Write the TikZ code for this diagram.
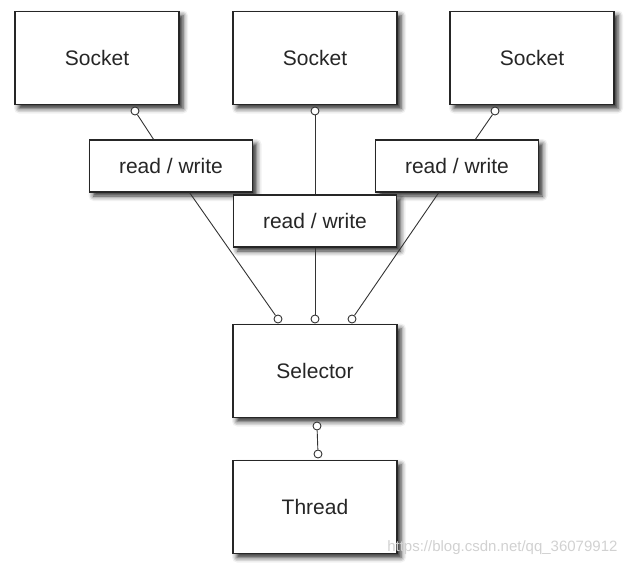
\documentclass[tikz,border=0pt]{standalone}
\usepackage{fontspec}
\setmainfont{Liberation Sans}
\usetikzlibrary{shadows.blur}
\begin{document}
\begin{tikzpicture}[x=1pt,y=-1pt,box_node/.style={rectangle,draw=black!85,line width=1.3pt,fill=white,text=black!85,minimum width=164pt,minimum height=93pt,font=\fontsize{21}{25}\selectfont,blur shadow={shadow xshift=4pt,shadow yshift=-4pt,shadow blur radius=5pt,shadow opacity=85}},rw_node/.style={box_node,minimum width=163pt,minimum height=52pt},port_node/.style={circle,draw=black!80,fill=white,line width=0.9pt,minimum size=8pt,inner sep=0pt},link/.style={draw=black!80,line width=0.9pt}]
		
		\useasboundingbox (0,0) rectangle (631,570);
		
		\node[box_node] (s1) at (97,58) {Socket};
		\node[box_node] (s2) at (315,58) {Socket};
		\node[box_node] (s3) at (532,58) {Socket};
		\node[rw_node] (rw1) at (171,166) {read / write};
		\node[rw_node] (rw3) at (457,166) {read / write};
		\node[rw_node] (rw2) at (315,221) {read / write};
		\node[box_node] (sel) at (315,371) {Selector};
		\node[box_node] (thr) at (315,507) {Thread};
		
		\node[port_node] (p1) at (135,111) {};
		\node[port_node] (p2) at (315,111) {};
		\node[port_node] (p3) at (495,111) {};
		\node[port_node] (q1) at (278,319) {};
		\node[port_node] (q2) at (315,319) {};
		\node[port_node] (q3) at (352,319) {};
		\node[port_node] (t1) at (317,426) {};
		\node[port_node] (t2) at (318,454) {};
		
		\draw[link] (p1) -- (rw1);
		\draw[link] (p2) -- (rw2);
		\draw[link] (p3) -- (rw3);
		\draw[link] (rw1) -- (q1);
		\draw[link] (rw2) -- (q2);
		\draw[link] (rw3) -- (q3);
		\draw[link] (t1) -- (t2);
		
		\node[text=black!18,font=\fontsize{15}{18}\selectfont,anchor=east] (wm) at (621,548) {https://blog.csdn.net/qq\_36079912};
		\end{tikzpicture}
\end{document}
